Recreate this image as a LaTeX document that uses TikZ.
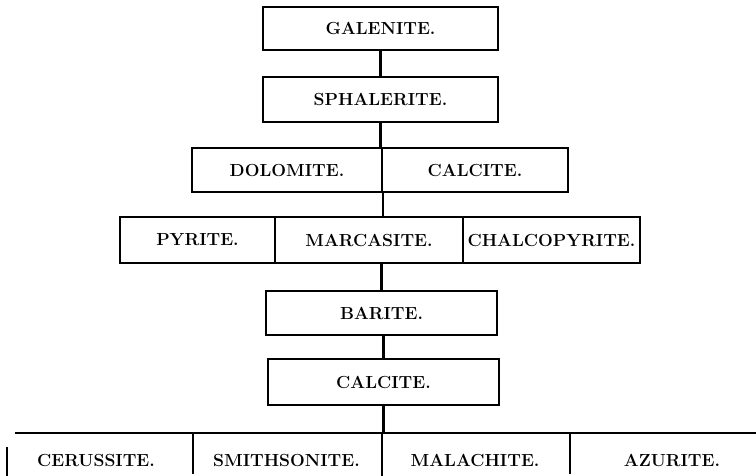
\documentclass[tikz,border=0pt]{standalone}
\begin{document}
\begin{tikzpicture}[x=1pt,y=-1pt,line width=1.2pt,
  txt/.style={inner sep=0pt,font=\fontsize{17.5}{21}\selectfont\bfseries},
  cell/.style={txt,draw,rectangle},
  link/.style={line width=2.2pt}]
\useasboundingbox (0,0) rectangle (756,476);
% top boxes
\node[cell,minimum width=235,minimum height=43] (gal) at (380.5,28.5) {GALENITE.};
\node[cell,minimum width=235,minimum height=45] (sph) at (380.5,99.5) {SPHALERITE.};
\draw[link] (gal.south) -- (sph.north);
% dolomite / calcite
\node[cell,minimum width=190,minimum height=44] (dol) at (287,170) {DOLOMITE.};
\node[cell,minimum width=186,minimum height=44] (calA) at (475,170) {CALCITE.};
\draw[link] (sph.south) -- (sph.south |- dol.north);
% pyrite row
\node[cell,minimum width=155,minimum height=46] (pyr) at (197.5,240) {PYRITE.};
\node[cell,minimum width=188,minimum height=46] (mar) at (369,240) {MARCASITE.};
\node[cell,minimum width=177,minimum height=46] (chal) at (551.5,240) {CHALCOPYRITE.};
\draw[link] (dol.south east) -- (dol.south east |- mar.north);
% barite, calcite
\node[cell,minimum width=231,minimum height=44] (bar) at (381.5,313) {BARITE.};
\draw[link] (bar.north) -- (bar.north |- mar.south);
\node[cell,minimum width=231,minimum height=46] (calB) at (383.5,382) {CALCITE.};
\draw[link] (calB.north) -- (calB.north |- bar.south);
% bottom row
\coordinate (rowL) at (15,433);
\coordinate (rowR) at (756,433);
\coordinate (v0a) at (7,447);   \coordinate (v0b) at (7,476);
\coordinate (v1a) at (193,433); \coordinate (v1b) at (193,474);
\coordinate (v2a) at (382,433); \coordinate (v2b) at (382,476);
\coordinate (v3a) at (570,433); \coordinate (v3b) at (570,474);
\draw (rowL) -- (rowR);
\draw (v0a) -- (v0b);
\draw (v1a) -- (v1b);
\draw (v2a) -- (v2b);
\draw (v3a) -- (v3b);
\draw[link] (calB.south) -- (calB.south |- rowL);
\node[txt] (cer) at (96,460) {CERUSSITE.};
\node[txt] (smi) at (286.5,460) {SMITHSONITE.};
\node[txt] (mal) at (475,460) {MALACHITE.};
\node[txt] (azu) at (672,460) {AZURITE.};
\end{tikzpicture}
\end{document}
